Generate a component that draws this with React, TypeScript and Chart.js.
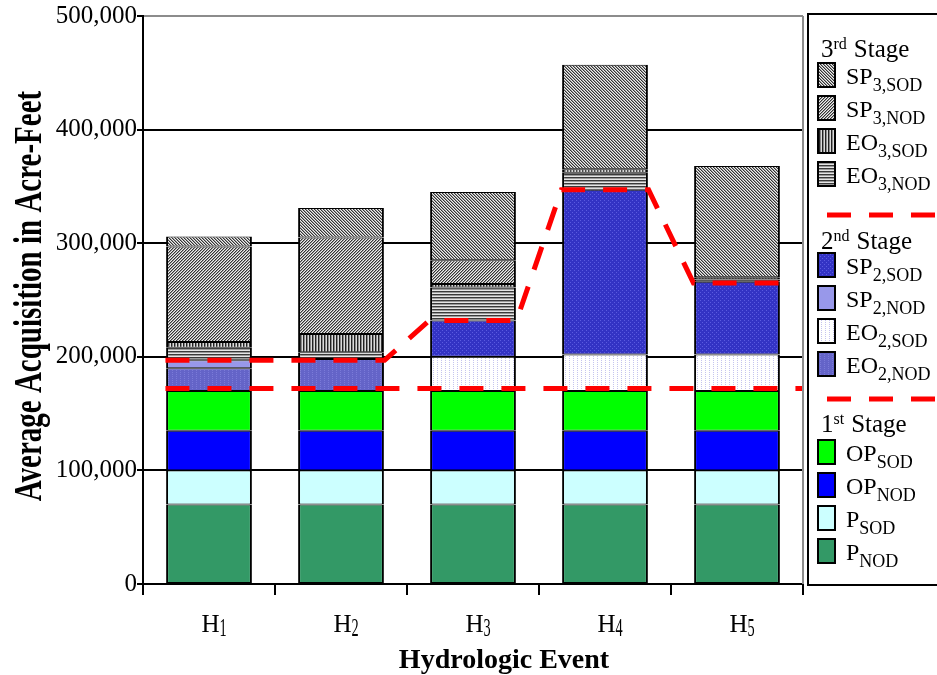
import React, { useEffect, useRef } from "react";
import { Chart, registerables } from "chart.js";

Chart.register(...registerables);

// ---------------- data ----------------
const eventLabels = ["H1", "H2", "H3", "H4", "H5"];
const yTickValues = [0, 100000, 200000, 300000, 400000, 500000];

// 1st stage
const P_NOD = [70000, 70000, 70000, 70000, 70000];
const P_SOD = [30000, 30000, 30000, 30000, 30000];
const OP_NOD = [35000, 35000, 35000, 35000, 35000];
const OP_SOD = [35000, 35000, 35000, 35000, 35000];
// 2nd stage
const EO2_NOD = [20000, 28000, 0, 0, 0];
const EO2_SOD = [0, 0, 30000, 32000, 32000];
const SP2_NOD = [7000, 0, 0, 0, 0];
const SP2_SOD = [0, 0, 32000, 145000, 64000];
// 3rd stage
const EO3_NOD = [11000, 6000, 29000, 15000, 2000];
const EO3_SOD = [5000, 16000, 3000, 3000, 2000];
const SP3_NOD = [84000, 85000, 21000, 0, 0];
const SP3_SOD = [9000, 26000, 60000, 92000, 98000];

// stage totals (dashed lines)
const secondStageLine = [197000, 197000, 232000, 347000, 265000];
const firstStageLine = 172000;

const seriesBase = ["P", "P", "OP", "OP", "EO", "EO", "SP", "SP", "EO", "EO", "SP", "SP"];
const seriesSub = ["NOD", "SOD", "NOD", "SOD", "2,NOD", "2,SOD", "2,NOD", "2,SOD", "3,NOD", "3,SOD", "3,NOD", "3,SOD"];
const seriesValues = [P_NOD, P_SOD, OP_NOD, OP_SOD, EO2_NOD, EO2_SOD, SP2_NOD, SP2_SOD, EO3_NOD, EO3_SOD, SP3_NOD, SP3_SOD];

const stageHeaders = [["3", "rd", "Stage"], ["2", "nd", "Stage"], ["1", "st", "Stage"]];
const stageMembers = [[11, 10, 9, 8], [7, 6, 5, 4], [3, 2, 1, 0]];

const yTitle = "Average Acquisition in Acre-Feet";
const xTitle = "Hydrologic Event";

const fmt = (v: number) => String(v).replace(/\B(?=(\d{3})+(?!\d))/g, ",");
const SERIF = "'Liberation Serif', 'Times New Roman', serif";

export default function App() {
  const ref = useRef<HTMLCanvasElement>(null);

  useEffect(() => {
    const canvas = ref.current!;
    const ctx = canvas.getContext("2d")!;
    Chart.defaults.font.family = SERIF;

    const tile = (w: number, h: number, fn: (x: number, y: number) => string) => {
      const c = document.createElement("canvas");
      c.width = w;
      c.height = h;
      const t = c.getContext("2d")!;
      for (let y = 0; y < h; y++)
        for (let x = 0; x < w; x++) {
          t.fillStyle = fn(x, y);
          t.fillRect(x, y, 1, 1);
        }
      return ctx.createPattern(c, "repeat")!;
    };

    const fills: (string | CanvasPattern)[] = [
      "#339966",
      "#CCFFFF",
      "#0000FF",
      "#00FF00",
      tile(4, 4, (x, y) => (x === 0 && y % 2 === 0 ? "#7a7ad8" : "#6464c8")),
      tile(4, 2, (x, y) => (x === 1 && y === 0 ? "#c4c4ee" : "#ffffff")),
      "#9898ea",
      tile(4, 4, (x, y) => ((x === 0 && y === 0) || (x === 2 && y === 2) ? "#5a5ae0" : "#3333c4")),
      tile(1, 3, (x, y) => ["#3a3a3a", "#9a9a9a", "#e6e6e6"][y]),
      tile(3, 1, (x) => ["#222222", "#8a8a8a", "#dcdcdc"][x]),
      tile(3, 3, (x, y) => ["#333333", "#9a9a9a", "#eeeeee"][(x + y) % 3]),
      tile(3, 3, (x, y) => ["#333333", "#9a9a9a", "#eeeeee"][(x - y + 3) % 3]),
    ];

    const barSets: any[] = seriesValues.map((vals, i) => ({
      type: "bar",
      label: seriesBase[i] + seriesSub[i],
      data: vals.map((v) => (v ? v : null)),
      backgroundColor: fills[i],
      borderColor: "#000",
      borderWidth: { top: 1, bottom: 1, left: 2, right: 2 },
      borderSkipped: false,
      barPercentage: 0.65,
      categoryPercentage: 1,
      grouped: false,
      xAxisID: "x",
      yAxisID: "y",
    }));

    const halfW = 0.33;
    const lineStyle = {
      type: "line",
      xAxisID: "x2",
      yAxisID: "y",
      borderColor: "#ff0000",
      borderWidth: 5,
      borderDash: [24, 18],
      borderCapStyle: "butt",
      pointRadius: 0,
      fill: false,
      tension: 0,
      order: -1,
    };
    const upper: any = {
      ...lineStyle,
      label: "2nd stage",
      stack: "l2",
      data: secondStageLine.flatMap((v, i) => [
        { x: i - halfW, y: v },
        { x: i + halfW, y: v },
      ]),
    };
    const lower: any = {
      ...lineStyle,
      label: "1st stage",
      stack: "l1",
      data: [
        { x: -halfW, y: firstStageLine },
        { x: eventLabels.length - 0.5, y: firstStageLine },
      ],
    };

    const drawPlugin = {
      id: "customDraw",
      afterDraw(chart: any) {
        const c: CanvasRenderingContext2D = chart.ctx;
        const a = chart.chartArea;
        const xs = chart.scales.x;
        c.save();
        // right frame of plot area
        c.strokeStyle = "#8c8c8c";
        c.lineWidth = 2;
        c.beginPath();
        c.moveTo(a.right, a.top);
        c.lineTo(a.right, a.bottom);
        c.stroke();

        c.fillStyle = "#000";
        c.textBaseline = "alphabetic";
        c.textAlign = "left";

        // x tick labels with subscripts
        eventLabels.forEach((lab, i) => {
          const base = lab.slice(0, 1);
          const sub = lab.slice(1);
          const subScale = 0.55;
          c.font = `25px ${SERIF}`;
          const bw = c.measureText(base).width;
          c.font = `26px ${SERIF}`;
          const sw = c.measureText(sub).width * subScale;
          const cx = xs.getPixelForValue(i) + 5;
          const x0 = cx - (bw + sw) / 2;
          c.font = `25px ${SERIF}`;
          c.fillText(base, x0, a.bottom + 48);
          c.save();
          c.translate(x0 + bw, a.bottom + 52);
          c.scale(subScale, 1);
          c.font = `26px ${SERIF}`;
          c.fillText(sub, 0, 0);
          c.restore();
        });

        // x title
        c.font = `bold 28px ${SERIF}`;
        c.textAlign = "center";
        c.fillText(xTitle, (a.left + a.right) / 2 + 31, a.bottom + 84);

        // y title
        c.save();
        c.translate(41, (a.top + a.bottom) / 2 - 4);
        c.rotate(-Math.PI / 2);
        c.scale(1, 1.4);
        c.font = `bold 29px ${SERIF}`;
        c.textAlign = "center";
        c.fillText(yTitle, 0, 0);
        c.restore();

        // legend
        const L = a.right + 5;
        const boxTop = a.top - 2;
        const boxBottom = a.bottom + 1;
        c.textAlign = "left";
        c.strokeStyle = "#000";
        c.lineWidth = 2;
        c.strokeRect(L, boxTop, chart.width + 10 - L, boxBottom - boxTop);

        const headerBase = [57, 249, 432];
        const firstItem = [75, 265, 452];
        const dashY = [215, 399];
        const spacing = 33;

        stageHeaders.forEach((h, g) => {
          const hb = headerBase[g];
          let x = L + 13;
          c.font = `25px ${SERIF}`;
          c.fillText(h[0], x, hb);
          x += c.measureText(h[0]).width;
          c.font = `16px ${SERIF}`;
          c.fillText(h[1], x, hb - 8);
          x += c.measureText(h[1]).width + 7;
          c.font = `25px ${SERIF}`;
          c.fillText(h[2], x, hb);

          stageMembers[g].forEach((si, k) => {
            const cy = firstItem[g] + k * spacing;
            c.fillStyle = fills[si] as any;
            c.fillRect(L + 10, cy - 12, 17, 24);
            c.strokeStyle = "#000";
            c.lineWidth = 2;
            c.strokeRect(L + 10, cy - 12, 17, 24);
            c.fillStyle = "#000";
            c.font = `24px ${SERIF}`;
            const tx = L + 38;
            c.fillText(seriesBase[si], tx, cy + 9);
            const bw = c.measureText(seriesBase[si]).width;
            c.font = `18px ${SERIF}`;
            c.fillText(seriesSub[si], tx + bw, cy + 16);
          });

          if (g < dashY.length) {
            c.save();
            c.strokeStyle = "#ff0000";
            c.lineWidth = 5;
            c.setLineDash([24, 18]);
            c.beginPath();
            c.moveTo(L + 19, dashY[g]);
            c.lineTo(chart.width + 5, dashY[g]);
            c.stroke();
            c.restore();
          }
        });

        c.restore();
      },
    };

    const chart = new Chart(ctx, {
      type: "bar",
      data: { labels: eventLabels, datasets: [...barSets, upper, lower] },
      options: {
        responsive: false,
        animation: false,
        layout: { padding: { left: 0, top: 16, right: 134, bottom: 0 } },
        plugins: {
          legend: { display: false },
          tooltip: { enabled: false },
          title: { display: false },
        },
        scales: {
          x: {
            type: "category",
            stacked: true,
            offset: true,
            grid: {
              offset: true,
              drawOnChartArea: false,
              drawTicks: true,
              tickLength: 11,
              color: "#000",
              lineWidth: 2,
            },
            border: { display: true, color: "#000", width: 2 },
            ticks: { display: false },
            afterFit: (s: any) => {
              s.height = 91;
            },
          },
          x2: {
            type: "linear",
            position: "bottom",
            min: -0.5,
            max: eventLabels.length - 0.5,
            offset: false,
            bounds: "data",
            grid: { offset: false, display: false },
            ticks: { display: false },
            display: false,
          },
          y: {
            stacked: true,
            min: 0,
            max: 500000,
            afterBuildTicks: (s: any) => {
              s.ticks = yTickValues.map((v) => ({ value: v }));
            },
            ticks: {
              color: "#000",
              font: { family: SERIF, size: 25 },
              padding: 0,
              callback: (v: any) => fmt(Number(v)),
            },
            grid: {
              color: (cc: any) => (cc.tick && cc.tick.value === 500000 ? "#8c8c8c" : "#000"),
              lineWidth: 2,
              tickLength: 6,
              tickColor: "#000",
              drawTicks: true,
            },
            border: { display: true, color: "#000", width: 2 },
            afterFit: (s: any) => {
              s.width = 143;
            },
          },
        },
      } as any,
      plugins: [drawPlugin],
    });

    return () => chart.destroy();
  }, []);

  return (
    <div style={{ position: "absolute", left: 0, top: 0, width: 937, height: 675, background: "#fff" }}>
      <canvas ref={ref} width={937} height={675} style={{ display: "block" }} />
    </div>
  );
}
